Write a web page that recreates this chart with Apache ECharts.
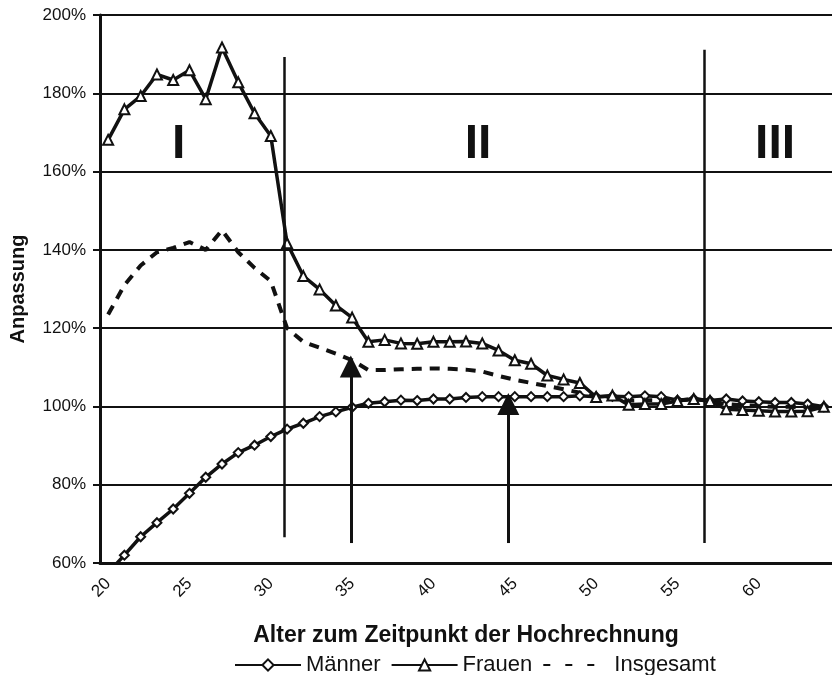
<!DOCTYPE html>
<html>
<head>
<meta charset="utf-8">
<script src="https://cdn.jsdelivr.net/npm/echarts@6/dist/echarts.min.js"></script>
<style>
  html, body { margin: 0; padding: 0; background: #fff; }
  #chart { width: 832px; height: 675px; }
</style>
</head>
<body>
<div id="chart"></div>
<script>
// Alter 20..64
const ages = []
for (let a = 20; a <= 64; a++) ages.push(String(a))

const maenner = [
  57.5, 62.0, 66.7, 70.3, 73.8, 77.8, 81.9, 85.3, 88.2, 90.1, 92.3,
  94.2, 95.7, 97.4, 98.6, 99.8, 100.8, 101.2, 101.6, 101.5, 101.9, 101.9,
  102.3, 102.5, 102.5, 102.5, 102.5, 102.5, 102.5, 102.7,
  102.5, 102.6, 102.5, 102.7, 102.5, 101.6, 101.9, 101.5, 101.9, 101.4,
  101.2, 101.0, 101.0, 100.6, 99.9
]

const frauen = [
  168.1, 175.9, 179.3, 184.8, 183.4, 185.9, 178.5, 191.7, 182.8, 174.9, 169.1,
  141.7, 133.3, 129.9, 125.8, 122.7, 116.5, 117.0, 116.1, 116.0, 116.5, 116.5,
  116.6, 116.1, 114.3, 111.8, 110.9, 107.9, 106.9, 106.0,
  102.4, 102.8, 100.4, 100.6, 100.6, 101.4, 101.9, 101.4, 99.3, 99.1,
  98.9, 98.7, 98.7, 98.8, 99.9
]

const insgesamt = [
  123.5, 131.0, 136.0, 139.4, 140.5, 142.0, 140.0, 145.0, 139.4, 135.4, 132.0,
  120.0, 116.5, 115.0, 113.5, 111.8, 109.3, 109.3, 109.5, 109.6, 109.7, 109.6,
  109.4, 108.9, 107.8, 106.8, 106.0, 105.2, 104.4, 103.5,
  102.3, 102.4, 101.5, 101.6, 101.5, 101.5, 101.9, 101.4, 100.6, 100.3,
  100.1, 99.9, 99.9, 99.7, 99.9
]

// Phasengrenzen, Pfeile und Phasennamen (Alter, Prozent)
const phaseLines = [[30.82, 189.3, 66.6], [56.62, 191.1, 65.1]]
const arrows = [[34.92, 65.1, 110.2], [44.6, 65.1, 100.6]]
const phaseNames = ['I', 'II', 'III']
const phaseAt = [[24.34, 166.8], [42.74, 166.8], [61.0, 166.8]]

const FONT = 'Liberation Sans'
const chart = echarts.init(document.getElementById('chart'))

const lineSeries = (name, data, symbol, size, dashed) => ({
  name,
  type: 'line',
  data,
  symbol,
  symbolSize: size,
  showSymbol: symbol !== 'none',
  lineStyle: { color: '#111', width: dashed ? 4 : 3.5, type: dashed ? [10, 8] : 'solid' },
  itemStyle: { color: '#fff', borderColor: '#111', borderWidth: 2 },
  emphasis: { disabled: true },
  z: dashed ? 3 : 4,
})

chart.setOption({
  animation: false,
  textStyle: { fontFamily: FONT, color: '#111' },
  grid: { left: 98, right: 0, top: 15, bottom: 112 },
  legend: {
    data: [
      'Männer',
      'Frauen',
      { name: 'Insgesamt', itemStyle: { opacity: 0 }, lineStyle: { type: [7, 15] } },
    ],
    left: 229,
    top: 649,
    itemWidth: 66,
    itemHeight: 14,
    itemGap: 10,
    textStyle: { fontSize: 22, color: '#111', fontFamily: FONT },
  },
  xAxis: [
    {
      type: 'category',
      data: ages,
      boundaryGap: true,
      name: 'Alter zum Zeitpunkt der Hochrechnung',
      nameLocation: 'middle',
      nameGap: 61,
      nameTextStyle: { fontSize: 23, fontWeight: 'bold', color: '#111' },
      axisLine: { lineStyle: { color: '#111', width: 3 } },
      axisTick: { interval: 4, length: 5, lineStyle: { color: '#111', width: 2 } },
      axisLabel: { interval: 4, rotate: 45, fontSize: 17, color: '#111', margin: 18 },
    },
    { type: 'value', min: 19.5, max: 64.5, show: false },
  ],
  yAxis: {
    type: 'value',
    min: 60,
    max: 200,
    interval: 20,
    name: 'Anpassung',
    nameLocation: 'middle',
    nameGap: 72,
    nameTextStyle: { fontSize: 20, fontWeight: 'bold', color: '#111' },
    axisLine: { show: true, lineStyle: { color: '#111', width: 3 } },
    axisTick: { show: true, length: 7, lineStyle: { color: '#111', width: 2 } },
    axisLabel: { formatter: '{value}%', fontSize: 17, color: '#111', margin: 14 },
    splitLine: { lineStyle: { color: '#111', width: 2 } },
  },
  series: [
    lineSeries('Männer', maenner, 'diamond', 9, false),
    lineSeries('Frauen', frauen, 'triangle', 10, false),
    lineSeries('Insgesamt', insgesamt, 'none', 0, true),
    {
      type: 'line',
      xAxisIndex: 1,
      data: [],
      silent: true,
      markLine: {
        silent: true,
        animation: false,
        label: { show: false },
        emphasis: { disabled: true },
        data: phaseLines.map(([x, y1, y2]) => [
          { coord: [x, y1], symbol: 'none', lineStyle: { color: '#111', width: 2.5, type: 'solid' } },
          { coord: [x, y2], symbol: 'none' },
        ]).concat(arrows.map(([x, y1, y2]) => [
          { coord: [x, y1], symbol: 'none', lineStyle: { color: '#111', width: 3, type: 'solid' } },
          { coord: [x, y2], symbol: 'triangle', symbolSize: 22 },
        ])),
      },
      markPoint: {
        silent: true,
        symbol: 'circle',
        symbolSize: 1,
        itemStyle: { color: 'transparent' },
        label: {
          show: true,
          position: 'inside',
          formatter: '{b}',
          fontSize: 48,
          fontWeight: 'bold',
          color: '#111',
          fontFamily: FONT,
        },
        data: phaseNames.map((n, i) => ({ name: n, coord: phaseAt[i] })),
      },
    },
  ],
})
</script>
</body>
</html>
